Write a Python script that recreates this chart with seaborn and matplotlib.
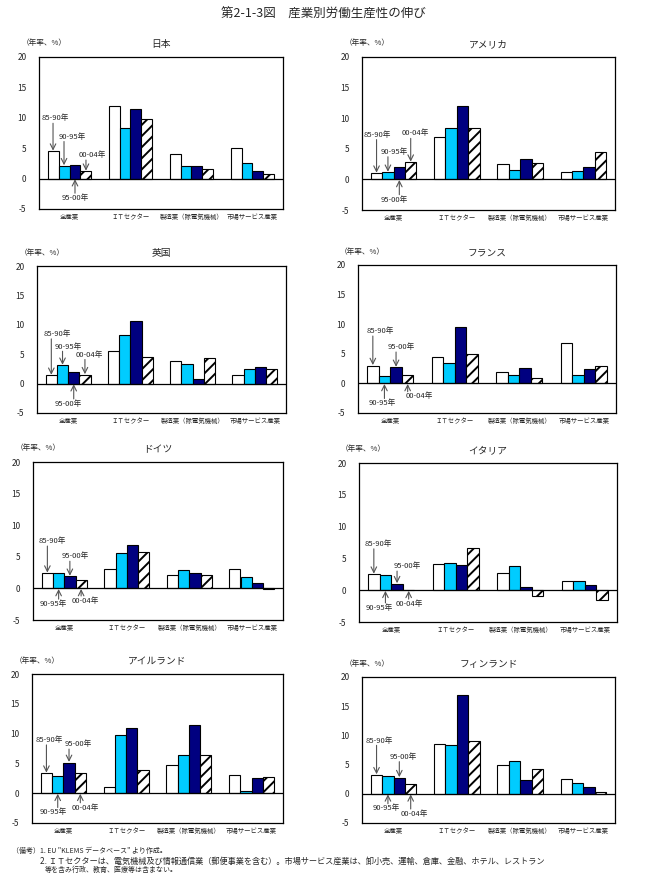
import seaborn as sns
import matplotlib.pyplot as plt
import pandas as pd

# Periods (hue) and industries (x categories)
periods = ['85-90年', '90-95年', '95-00年', '00-04年']
industries = ['全産業', 'ＩＴセクター', '製造業（除電気機械）', '市場サービス産業']

# Values per country: one row per period, one column per industry (年率、%)
japan = [[4.5, 11.9, 4.0, 5.0], [2.1, 8.4, 2.1, 2.6], [2.3, 11.5, 2.1, 1.2], [1.2, 9.8, 1.5, 0.7]]
america = [[1.0, 6.9, 2.5, 1.15], [1.15, 8.4, 1.5, 1.3], [2.0, 12.0, 3.3, 2.0], [2.8, 8.4, 2.7, 4.5]]
uk = [[1.4, 5.6, 3.9, 1.4], [3.1, 8.3, 3.4, 2.55], [2.0, 10.7, 0.85, 2.9], [1.5, 4.5, 4.3, 2.4]]
france = [[3.0, 4.5, 1.85, 6.9], [1.2, 3.5, 1.5, 1.5], [2.7, 9.6, 2.6, 2.35], [1.5, 5.0, 0.9, 2.9]]
germany = [[2.4, 3.1, 2.1, 3.1], [2.5, 5.6, 2.85, 1.8], [1.9, 6.9, 2.4, 0.8], [1.4, 5.7, 2.1, -0.15]]
italy = [[2.5, 4.1, 2.7, 1.4], [2.4, 4.25, 3.8, 1.4], [1.0, 3.95, 0.5, 0.8], [0.0, 6.6, -0.95, -1.6]]
ireland = [[3.35, 1.0, 4.7, 3.0], [2.95, 9.7, 6.35, 0.35], [5.15, 10.9, 11.5, 2.6], [3.45, 3.85, 6.35, 2.7]]
finland = [[3.25, 8.6, 5.0, 2.6], [3.1, 8.35, 5.65, 1.9], [2.75, 17.0, 2.4, 1.2], [1.7, 9.0, 4.3, 0.35]]

countries = ['日本', 'アメリカ', '英国', 'フランス', 'ドイツ', 'イタリア', 'アイルランド', 'フィンランド']
country_vals = [japan, america, uk, france, germany, italy, ireland, finland]

# Layout of the period labels on the 全産業 group:
# label height in data units (negative = below zero line) and x shift in pixels
label_y = [[9.9, 6.9, -3.2, 3.85], [7.3, 4.5, -3.3, 7.5], [8.4, 6.3, -3.4, 4.9],
           [8.8, -3.35, 6.1, -2.2], [7.5, -2.5, 5.1, -2.0], [7.3, -2.8, 3.8, -2.2],
           [8.9, -3.2, 8.2, -2.4], [9.1, -2.5, 6.3, -3.4]]
label_dx = [[2, 8, 0, 6], [1, 6, -5, 5], [6, 6, -5, 4], [7, -2, 5, 12],
            [5, -5, 5, 4], [4, -6, 10, 1], [3, -4, 9, 5], [3, -2, 4, 4]]

sns.set_style('white')
plt.rcParams['font.family'] = ['Noto Sans CJK JP', 'DejaVu Sans']
plt.rcParams['hatch.linewidth'] = 1.4
plt.rcParams['axes.unicode_minus'] = False

W, H = 646, 891
fig = plt.figure(figsize=(W / 100, H / 100), dpi=100)


def rect(l, t, r, b):
    return [l / W, 1 - b / H, (r - l) / W, (b - t) / H]


# axes box (left, top, right, bottom) in pixels
boxes = [(39, 57, 283, 209), (362, 57, 615, 210),
         (37, 266, 286, 413), (358, 265, 616, 413),
         (33, 462, 283, 620), (359, 463, 617, 622),
         (32, 674, 283, 823), (362, 677, 615, 823)]

palette = ['white', '#00CCFF', '#000080', 'white']

for k, (name, vals, box) in enumerate(zip(countries, country_vals, boxes)):
    ax = fig.add_axes(rect(*box))
    df = pd.DataFrame([(p, ind, vals[i][j])
                       for i, p in enumerate(periods)
                       for j, ind in enumerate(industries)],
                      columns=['period', 'industry', 'value'])
    sns.barplot(data=df, x='industry', y='value', hue='period',
                order=industries, hue_order=periods, palette=palette,
                saturation=1, width=0.72, edgecolor='black', linewidth=0.8,
                errorbar=None, legend=False, ax=ax)
    for bar in ax.containers[3]:
        bar.set_hatch('///')

    ax.axhline(0, color='black', lw=0.9)
    ax.set_ylim(-5, 20)
    ax.set_xlim(-0.5, 3.5)
    ax.set_yticks([-5, 0, 5, 10, 15, 20])
    ax.set_xlabel('')
    ax.set_ylabel('')
    ax.tick_params(axis='y', length=0, pad=9, labelsize=6)
    ax.tick_params(axis='x', length=0, pad=3, labelsize=4.6)
    for s in ax.spines.values():
        s.set_color('black')
        s.set_linewidth(0.9)

    ax.set_title(name, fontsize=7, pad=7)
    ax.text(-0.07, 1.09, '（年率、%）', transform=ax.transAxes,
            fontsize=5.5, ha='left', va='center')

    # period labels with arrows on the 全産業 group
    px = 4.0 / (box[2] - box[0])
    for i, p in enumerate(periods):
        bar = ax.containers[i][0]
        bx = bar.get_x() + bar.get_width() / 2
        v = vals[i][0]
        ty = label_y[k][i]
        ax.text(bx + label_dx[k][i] * px, ty, p, fontsize=5.5,
                ha='center', va='center')
        if ty > 0:
            start, end = ty - 0.8, max(v, 0) + 0.1
        else:
            start, end = ty + 0.8, min(v, 0) - 0.1
        ax.annotate('', xy=(bx, end), xytext=(bx, start),
                    arrowprops=dict(arrowstyle='->', color='#555555', lw=0.8,
                                    shrinkA=0, shrinkB=0))

fig.text(0.5, 1 - 14 / H, '第2-1-3図　産業別労働生産性の伸び',
         fontsize=9, ha='center', va='center')

notes = [
    (12, 851, 5, '（備考）1. EU "KLEMS データベース" より作成。'),
    (40, 861, 5.9, '2. ＩＴセクターは、電気機械及び情報通信業（郵便事業を含む）。市場サービス産業は、卸小売、運輸、倉庫、金融、ホテル、レストラン'),
    (45, 870, 5, '等を含み行政、教育、医療等は含まない。'),
]
for x, y, fs, t in notes:
    fig.text(x / W, 1 - y / H, t, fontsize=fs, ha='left', va='center')

plt.savefig('out.png', dpi=100)
